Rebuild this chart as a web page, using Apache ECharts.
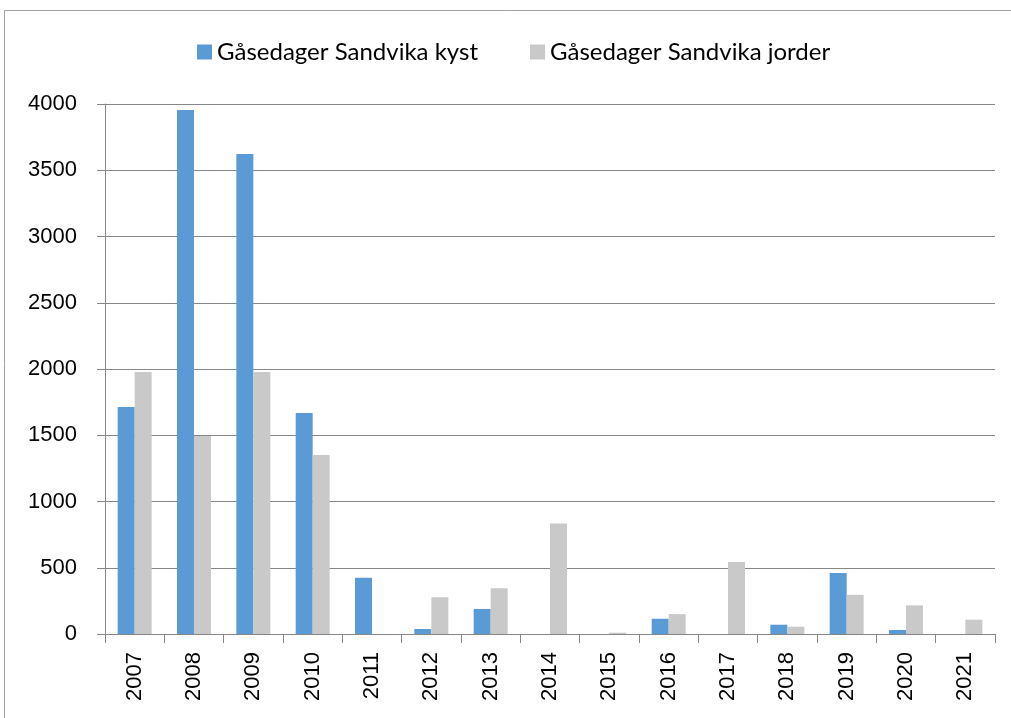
<!DOCTYPE html>
<html>
<head>
<meta charset="utf-8">
<script src="https://cdn.jsdelivr.net/npm/echarts@6/dist/echarts.min.js"></script>
<style>
  html, body { margin: 0; padding: 0; background: #fff; }
  #chart { width: 1011px; height: 718px; }
</style>
</head>
<body>
<div id="chart"></div>
<script>
// år
var years = ["2007", "2008", "2009", "2010", "2011", "2012", "2013", "2014",
  "2015", "2016", "2017", "2018", "2019", "2020", "2021"];
// gåsedager per år
var kyst = [1713, 3955, 3623, 1668, 425, 38, 189, 0, 0, 115, 0, 70, 460, 30, 0];
var jorder = [1977, 1494, 1977, 1351, 0, 277, 345, 834, 10, 150, 544, 55, 296, 216, 108];
var yTicks = [0, 500, 1000, 1500, 2000, 2500, 3000, 3500, 4000];

var chart = echarts.init(document.getElementById("chart"));
var axisFont = "'Liberation Sans', Arial, sans-serif";

chart.setOption({
  animation: false,
  graphic: [{
    type: "rect",
    shape: { x: 4.5, y: 10.5, width: 1030, height: 730 },
    style: { fill: "none", stroke: "#a0a0a0", lineWidth: 1 }
  }],
  legend: {
    top: 35,
    left: 192,
    itemWidth: 15,
    itemHeight: 15,
    itemGap: 52,
    icon: "rect",
    textStyle: { fontSize: 24, color: "#000", fontFamily: "Lato, sans-serif" },
    data: ["Gåsedager Sandvika kyst", "Gåsedager Sandvika jorder"]
  },
  grid: { left: 105, right: 16, top: 104, bottom: 84, containLabel: false },
  xAxis: {
    type: "category",
    data: years,
    axisLine: { lineStyle: { color: "#868686" } },
    axisTick: { show: true, length: 9, lineStyle: { color: "#868686" } },
    axisLabel: {
      rotate: 90,
      fontSize: 22,
      color: "#000",
      fontFamily: axisFont,
      margin: 18
    }
  },
  yAxis: {
    type: "value",
    min: yTicks[0],
    max: yTicks[yTicks.length - 1],
    interval: 500,
    axisLine: { show: true, lineStyle: { color: "#868686" } },
    axisTick: { show: true, length: 8, lineStyle: { color: "#868686" } },
    axisLabel: {
      fontSize: 22,
      color: "#000",
      fontFamily: axisFont,
      margin: 28,
      formatter: function (v) { return String(v); }
    },
    splitLine: { lineStyle: { color: "#868686" } }
  },
  series: [
    {
      name: "Gåsedager Sandvika kyst",
      type: "bar",
      data: kyst,
      barWidth: 17,
      barGap: "0%",
      itemStyle: { color: "#5b9bd5" }
    },
    {
      name: "Gåsedager Sandvika jorder",
      type: "bar",
      data: jorder,
      barWidth: 17,
      itemStyle: { color: "#c9c9c9" }
    }
  ]
});
</script>
</body>
</html>
